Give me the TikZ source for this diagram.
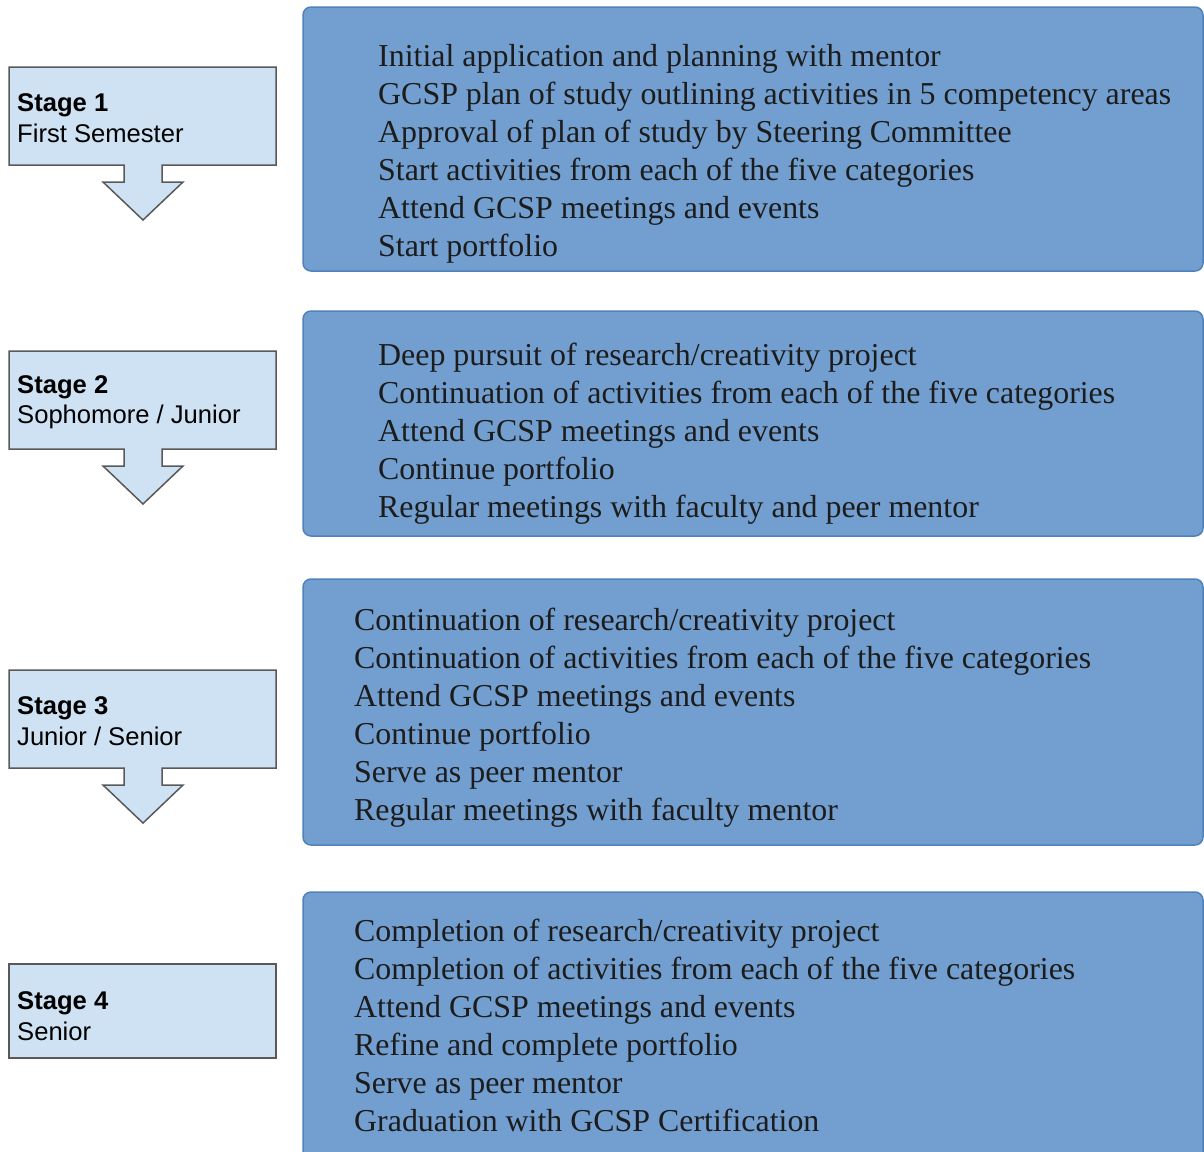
\documentclass[tikz,border=0pt]{standalone}
\usepackage{fontspec}
\setmainfont{Liberation Serif}
\newfontfamily\stagefont{Liberation Sans}
\definecolor{boxblue}{HTML}{729FCF}
\definecolor{boxedge}{HTML}{4F81BD}
\definecolor{stagefill}{HTML}{CFE2F3}
\definecolor{stageedge}{HTML}{595959}
\definecolor{txt}{HTML}{1C1C1C}
\begin{document}
\begin{tikzpicture}[x=1pt,y=-1pt,
  bluebox/.style={draw=boxedge, line width=1.5pt, fill=boxblue, rounded corners=8pt, inner sep=0pt},
  listtext/.style={anchor=west, align=left, inner sep=0pt, text=txt, font=\fontsize{31.9}{38}\selectfont},
  stageshape/.style={draw=stageedge, line width=1.5pt, fill=stagefill},
  stagetext/.style={anchor=west, align=left, inner sep=0pt, font=\stagefont\fontsize{25.6}{30.5}\selectfont},
]
\useasboundingbox (0,0) rectangle (1204,1151);
% blue boxes
\node[bluebox, minimum width=900pt, minimum height=264pt] (b1) at (753,139) {};
\node[bluebox, minimum width=900pt, minimum height=225pt] (b2) at (753,423.5) {};
\node[bluebox, minimum width=900pt, minimum height=266pt] (b3) at (753,712) {};
\node[bluebox, minimum width=900pt, minimum height=270pt] (b4) at (753,1027) {};
% texts
\node[listtext] (t1) at (378,154) {Initial application and planning with mentor\\GCSP plan of study outlining activities in 5 competency areas\\Approval of plan of study by Steering Committee\\Start activities from each of the five categories\\Attend GCSP meetings and events\\Start portfolio};
\node[listtext] (t2) at (378,434) {Deep pursuit of research/creativity project\\Continuation of activities from each of the five categories\\Attend GCSP meetings and events\\Continue portfolio\\Regular meetings with faculty and peer mentor};
\node[listtext] (t3) at (354,718) {Continuation of research/creativity project\\Continuation of activities from each of the five categories\\Attend GCSP meetings and events\\Continue portfolio\\Serve as peer mentor\\Regular meetings with faculty mentor};
\node[listtext] (t4) at (354,1025) {Completion of research/creativity project\\Completion of activities from each of the five categories\\Attend GCSP meetings and events\\Refine and complete portfolio\\Serve as peer mentor\\Graduation with GCSP Certification};
% stage shapes
\foreach \t/\b in {67/165, 351/449, 670/768}{
  \draw[stageshape] (9,\t) -- (276,\t) -- (276,\b) -- (162,\b) -- (162,\b+17) -- (183,\b+17) -- (143,\b+55) -- (103,\b+17) -- (124,\b+17) -- (124,\b) -- (9,\b) -- cycle;
}
\draw[stageshape] (9,964) rectangle (276,1058);
\node[stagetext] (s1) at (17,118) {\textbf{Stage 1}\\First Semester};
\node[stagetext] (s2) at (17,402) {\textbf{Stage 2}\\Sophomore / Junior};
\node[stagetext] (s3) at (17,721) {\textbf{Stage 3}\\Junior / Senior};
\node[stagetext] (s4) at (17,1016) {\textbf{Stage 4}\\Senior};
\end{tikzpicture}
\end{document}
